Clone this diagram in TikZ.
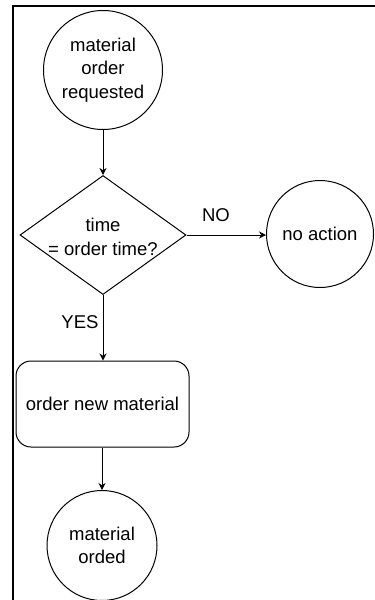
\documentclass[tikz,border=0pt]{standalone}
\usepackage{fontspec}
\setmainfont{Liberation Sans}
\usetikzlibrary{shapes.geometric,arrows.meta}
\begin{document}
\begin{tikzpicture}[x=1pt,y=-1pt,
  every node/.style={font=\fontsize{18.5}{23.5}\selectfont, align=center},
  state/.style={circle, draw, line width=1pt, inner sep=0pt},
  decision/.style={diamond, draw, line width=1pt, inner sep=0pt,
                   minimum width=166pt, minimum height=119pt},
  process/.style={rectangle, rounded corners=15pt, draw, line width=1pt,
                  minimum width=173pt, minimum height=86pt, inner sep=0pt},
  flow/.style={line width=1pt, -{Stealth[length=7pt,width=7pt]}},
  lbl/.style={inner sep=0pt}]
  \useasboundingbox (0,0) rectangle (375,600);
  % outer frame (open to the right and bottom)
  \draw[line width=1.3pt] (376,6) -- (13,6) -- (13,601);

  \node[state, minimum size=119pt] (start) at (103,70) {material\\order\\requested};
  \node[decision] (check) at (103,235) {};
  \node[lbl] (checktxt) at (103,237) {time\\= order time?};
  \node[state, minimum size=107pt] (noact) at (320,234) {no action};
  \node[process] (order) at (102.5,404) {order new material};
  \node[state, minimum size=110pt] (done) at (102,545.5) {material\\orded};

  \draw[flow] (start.south) -- (check.north);
  \draw[flow] (check.east) -- (check.east -| noact.west);
  \draw[flow] (check.south) -- (order.north -| check.south);
  \draw[flow] (order.south -| done.north) -- (done.north);

  \node[lbl] (nolbl) at (216,215) {NO};
  \node[lbl] (yeslbl) at (80,322) {YES};
\end{tikzpicture}
\end{document}
